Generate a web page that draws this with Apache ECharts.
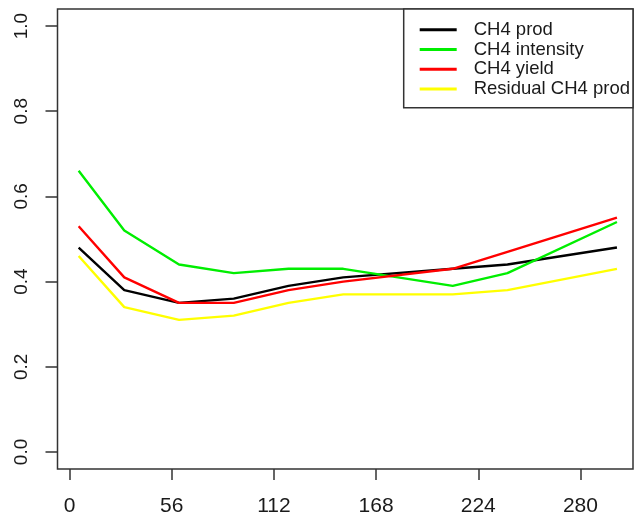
<!DOCTYPE html>
<html>
<head>
<meta charset="utf-8">
<script src="https://cdn.jsdelivr.net/npm/echarts@6/dist/echarts.min.js"></script>
<style>html,body{margin:0;padding:0;background:#fff;}#c{width:638px;height:517px;}</style>
</head>
<body>
<div id="c"></div>
<script>
const days = [5, 30, 60, 90, 120, 150, 210, 240, 300];
const ch4Prod = [0.48, 0.38, 0.35, 0.36, 0.39, 0.41, 0.43, 0.44, 0.48];
const ch4Intensity = [0.66, 0.52, 0.44, 0.42, 0.43, 0.43, 0.39, 0.42, 0.54];
const ch4Yield = [0.53, 0.41, 0.35, 0.35, 0.38, 0.40, 0.43, 0.47, 0.55];
const residualProd = [0.46, 0.34, 0.31, 0.32, 0.35, 0.37, 0.37, 0.38, 0.43];
const xTicks = [0, 56, 112, 168, 224, 280];
const yTicks = [0, 0.2, 0.4, 0.6, 0.8, 1.0];
const seriesNames = ['CH4 prod', 'CH4 intensity', 'CH4 yield', 'Residual CH4 prod'];
const seriesColors = ['#000000', '#00ee00', '#ff0000', '#ffff00'];
const seriesData = [ch4Prod, ch4Intensity, ch4Yield, residualProd];

const axisCol = '#333333';
const textCol = '#1a1a1a';
const chart = echarts.init(document.getElementById('c'), null, {renderer: 'canvas'});
chart.setOption({
  animation: false,
  backgroundColor: '#fff',
  grid: {left: 57.5, right: 5, top: 9, bottom: 46, show: true, borderColor: axisCol, borderWidth: 1.5, backgroundColor: 'transparent'},
  xAxis: {
    type: 'value', min: -6.6, max: 308.8,
    axisLine: {show: false, onZero: false},
    splitLine: {show: false},
    axisTick: {show: true, inside: false, customValues: xTicks, length: 11, lineStyle: {color: axisCol, width: 1.5}},
    axisLabel: {show: true, inside: false, customValues: xTicks, margin: 27, fontSize: 21, color: textCol, fontFamily: 'Liberation Sans, Arial, sans-serif'}
  },
  yAxis: {
    type: 'value', min: -0.04, max: 1.04,
    axisLine: {show: false, onZero: false},
    splitLine: {show: false},
    axisTick: {show: true, inside: false, customValues: yTicks, length: 12, lineStyle: {color: axisCol, width: 1.5}},
    axisLabel: {show: true, inside: false, customValues: yTicks, rotate: 90, margin: 26, fontSize: 19, color: textCol,
      fontFamily: 'Liberation Sans, Arial, sans-serif', formatter: v => v.toFixed(1)}
  },
  legend: {
    orient: 'vertical', right: 5, top: 9, align: 'left',
    data: seriesNames,
    icon: 'rect', itemWidth: 37, itemHeight: 3, itemGap: 0,
    padding: [11, 3, 9, 16],
    borderColor: axisCol, borderWidth: 1.5, backgroundColor: '#fff',
    textStyle: {fontSize: 18.5, color: textCol, lineHeight: 19.7, padding: [0, 0, 0, 12], fontFamily: 'Liberation Sans, Arial, sans-serif'}
  },
  series: seriesNames.map((n, i) => ({
    name: n, type: 'line', symbol: 'none', color: seriesColors[i],
    lineStyle: {width: 2.4, color: seriesColors[i]},
    data: days.map((d, j) => [d, seriesData[i][j]])
  }))
});
</script>
</body>
</html>
